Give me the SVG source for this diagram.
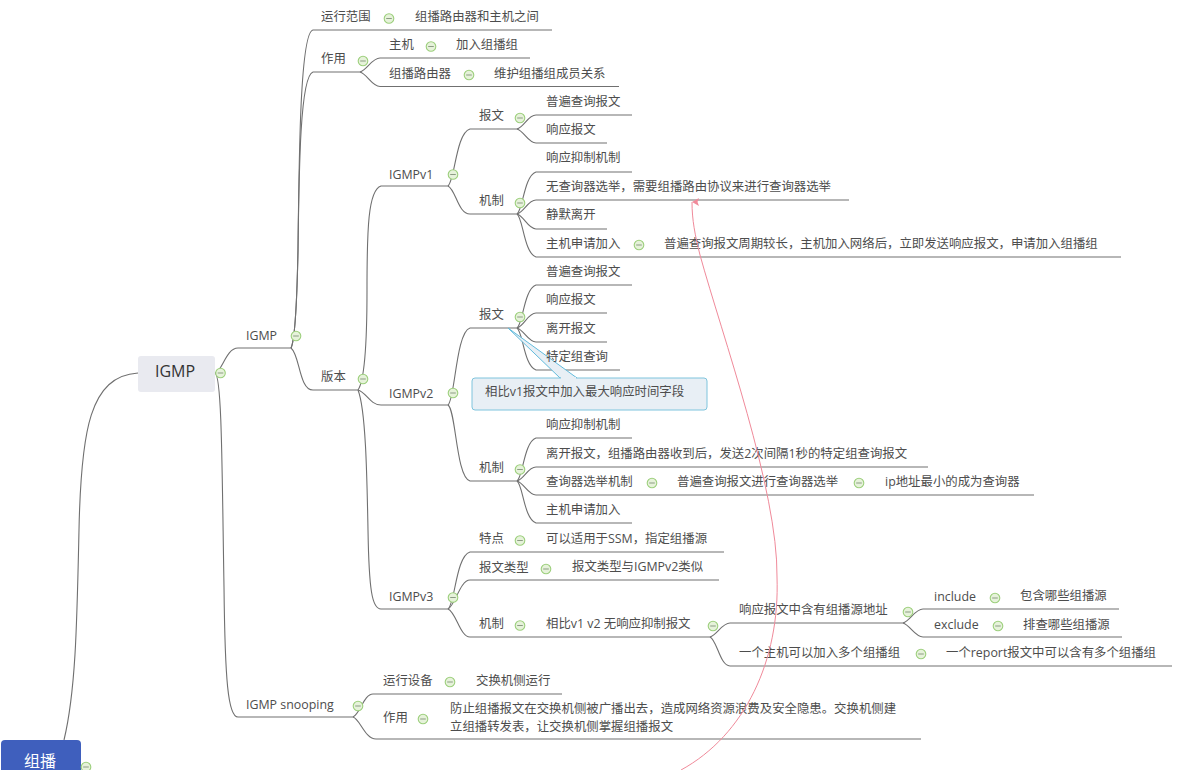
<svg xmlns="http://www.w3.org/2000/svg" width="1187" height="770" viewBox="0 0 1187 770">
<style>
text{font-family:"Open Sans","Noto Sans CJK SC",sans-serif;font-size:12.4px;fill:#4d4d4d}
.b{fill:none;stroke:#707070;stroke-width:1.1}
.h{fill:#e6f2da;stroke:#9ccf7c;stroke-width:1.1}
.m{fill:none;stroke:#8c9c84;stroke-width:1}
</style>
<defs>
<g id="ic"><circle class="h" r="4.8"/><path class="m" d="M-2.800 0H2.800"/></g>
<marker id="ar" markerWidth="10" markerHeight="10" refX="5" refY="1" orient="auto" markerUnits="userSpaceOnUse" viewBox="0 0 10 10"><path d="M1 8L5 1L9 8L5 6.500Z" fill="#f08a9a"/></marker>
</defs>
<rect width="1187" height="770" fill="#fff"/>
<g id="connectors">
<path class="b" d="M64 740C76 690 77 620 79 530C81 430 90 376 138 373"/>
<path class="b" d="M215 373C222 372 226 348 238 348H291"/>
<path class="b" d="M215 373C222 376 222 470 224 587C225 680 228 717 238 717H353"/>
<path class="b" d="M291 348C295 340 297 300 298 250C299 160 300 32 313 30H552"/>
<path class="b" d="M291 348C295 340 297 300 298 250C299 170 300 76 313 72H360"/>
<path class="b" d="M291 348C300 355 299 390 313 390H358"/>
<path class="b" d="M360 72C367 70 372 58 380 58H530"/>
<path class="b" d="M360 72C367 74 372 86.500 380 86.500H619"/>
<path class="b" d="M358 390C365 380 367 340 367 290C367 230 368 190 381 186H448"/>
<path class="b" d="M358 390C366 392 370 405 381 405H448"/>
<path class="b" d="M358 390C366 410 367 480 368 530C369 590 372 609 381 609H448"/>
<path class="b" d="M448 186C455 180 456 133 470 129H517"/>
<path class="b" d="M448 186C456 190 458 214 470 214H517"/>
<path class="b" d="M517 129C524 127 528 115 536 115H632"/>
<path class="b" d="M517 129C524 131 528 143 536 143H607"/>
<path class="b" d="M517 214C523 210 524 176 536 172H632"/>
<path class="b" d="M517 214C524 212 528 200 536 200H849"/>
<path class="b" d="M517 214C524 216 528 229 536 229H607"/>
<path class="b" d="M517 214C523 218 524 253 536 257H1121"/>
<path class="b" d="M448 405C455 400 456 332 470 328H517"/>
<path class="b" d="M448 405C456 410 456 477 470 481H517"/>
<path class="b" d="M517 328C523 324 524 289 536 285H632"/>
<path class="b" d="M517 328C524 326 528 313 536 313H607"/>
<path class="b" d="M517 328C524 330 528 342 536 342H607"/>
<path class="b" d="M517 328C523 332 524 366 536 370H620"/>
<path class="b" d="M517 481C523 477 524 442 536 438H632"/>
<path class="b" d="M517 481C524 479 528 467 536 467H928"/>
<path class="b" d="M517 481C524 483 528 495 536 495H1034"/>
<path class="b" d="M517 481C523 485 524 519 536 523H632"/>
<path class="b" d="M448 609C455 604 456 556 470 552H724"/>
<path class="b" d="M448 609C455 606 460 580 470 580H719"/>
<path class="b" d="M448 609C456 612 460 637 470 637H710"/>
<path class="b" d="M710 637C717 635 722 623 730 623H903"/>
<path class="b" d="M710 637C717 640 720 666 730 666H1172"/>
<path class="b" d="M903 623C910 621 915 609 923 609H1119"/>
<path class="b" d="M903 623C910 625 915 637 923 637H1122"/>
<path class="b" d="M353 717C360 714 364 694 373 694H562"/>
<path class="b" d="M353 717C360 719 365 739 376 739H921"/>
</g>
<g id="root"><rect x="1" y="740" width="80" height="44" rx="4" fill="#3f5fbd"/><text x="24" y="767" style="font-size:16px;fill:#fff">组播</text><use href="#ic" x="86" y="767"/></g>
<g id="igmp-main"><rect x="138" y="356" width="77" height="36" rx="3" fill="#e9eaf0"/><text x="155" y="377" style="font-size:16px;fill:#333">IGMP</text><use href="#ic" x="220.500" y="373"/></g>
<g id="igmp"><text x="246" y="340">IGMP</text><use href="#ic" x="296" y="336"/></g>
<g id="scope"><text x="321" y="21">运行范围</text><use href="#ic" x="389" y="18.500"/></g>
<g id="scope-v"><text x="415" y="21">组播路由器和主机之间</text></g>
<g id="role"><text x="321" y="63">作用</text><use href="#ic" x="363" y="61"/></g>
<g id="host"><text x="389" y="49">主机</text><use href="#ic" x="431" y="46.500"/></g>
<g id="host-v"><text x="456" y="49">加入组播组</text></g>
<g id="router"><text x="389" y="78">组播路由器</text><use href="#ic" x="469" y="75"/></g>
<g id="router-v"><text x="494" y="78">维护组播组成员关系</text></g>
<g id="ver"><text x="321" y="381">版本</text><use href="#ic" x="363" y="379"/></g>
<g id="v1"><text x="389" y="179">IGMPv1</text><use href="#ic" x="453" y="174.500"/></g>
<g id="v1-msg"><text x="479" y="120">报文</text><use href="#ic" x="520" y="118"/></g>
<g id="v1-a"><text x="546" y="106">普遍查询报文</text></g>
<g id="v1-b"><text x="546" y="134">响应报文</text></g>
<g id="v1-mech"><text x="479" y="205">机制</text><use href="#ic" x="520" y="203"/></g>
<g id="v1-c"><text x="546" y="162">响应抑制机制</text></g>
<g id="v1-d"><text x="546" y="191">无查询器选举&#xFF0C;需要组播路由协议来进行查询器选举</text></g>
<g id="v1-e"><text x="546" y="219">静默离开</text></g>
<g id="v1-f"><text x="546" y="248">主机申请加入</text><use href="#ic" x="639" y="245"/></g>
<g id="v1-g"><text x="664" y="248">普遍查询报文周期较长&#xFF0C;主机加入网络后&#xFF0C;立即发送响应报文&#xFF0C;申请加入组播组</text></g>
<g id="v2"><text x="389" y="398">IGMPv2</text><use href="#ic" x="453" y="393"/></g>
<g id="v2-msg"><text x="479" y="319">报文</text><use href="#ic" x="520" y="317"/></g>
<g id="v2-a"><text x="546" y="276">普遍查询报文</text></g>
<g id="v2-b"><text x="546" y="304">响应报文</text></g>
<g id="v2-c"><text x="546" y="333">离开报文</text></g>
<g id="callout"><path d="M508 328L560 378H577Z" fill="#e8eff5" stroke="#62bbdc"/><rect x="472" y="378" width="235" height="32" rx="3" fill="#e8eff5" stroke="#7fc4dd"/><path d="M561 378H576" stroke="#e8eff5" stroke-width="2"/><text x="485" y="396">相比v1报文中加入最大响应时间字段</text></g>
<g id="v2-d"><text x="546" y="361">特定组查询</text></g>
<g id="v2-mech"><text x="479" y="472">机制</text><use href="#ic" x="520" y="469.500"/></g>
<g id="v2-e"><text x="546" y="429">响应抑制机制</text></g>
<g id="v2-f"><text x="546" y="458">离开报文&#xFF0C;组播路由器收到后&#xFF0C;发送2次间隔1秒的特定组查询报文</text></g>
<g id="v2-g"><text x="546" y="486">查询器选举机制</text><use href="#ic" x="652" y="483"/></g>
<g id="v2-h"><text x="677" y="486">普遍查询报文进行查询器选举</text><use href="#ic" x="859" y="483"/></g>
<g id="v2-i"><text x="885" y="486">ip地址最小的成为查询器</text></g>
<g id="v2-j"><text x="546" y="514">主机申请加入</text></g>
<g id="v3"><text x="389" y="601">IGMPv3</text><use href="#ic" x="453" y="597.500"/></g>
<g id="v3-a"><text x="479" y="543">特点</text><use href="#ic" x="520" y="540.500"/></g>
<g id="v3-a1"><text x="546" y="543">可以适用于SSM&#xFF0C;指定组播源</text></g>
<g id="v3-b"><text x="479" y="572">报文类型</text><use href="#ic" x="546" y="569"/></g>
<g id="v3-b1"><text x="572" y="571">报文类型与IGMPv2类似</text></g>
<g id="v3-c"><text x="479" y="628">机制</text><use href="#ic" x="520" y="625.500"/></g>
<g id="v3-c1"><text x="546" y="628">相比v1 v2 无响应抑制报文</text><use href="#ic" x="713" y="626"/></g>
<g id="v3-d"><text x="739" y="614">响应报文中含有组播源地址</text><use href="#ic" x="908" y="612"/></g>
<g id="v3-inc"><text x="934" y="601">include</text><use href="#ic" x="995" y="598"/></g>
<g id="v3-inc1"><text x="1020" y="600">包含哪些组播源</text></g>
<g id="v3-exc"><text x="934" y="629">exclude</text><use href="#ic" x="998" y="626"/></g>
<g id="v3-exc1"><text x="1023" y="629">排查哪些组播源</text></g>
<g id="v3-e"><text x="739" y="657">一个主机可以加入多个组播组</text><use href="#ic" x="921" y="654"/></g>
<g id="v3-e1"><text x="946" y="657">一个report报文中可以含有多个组播组</text></g>
<g id="snoop"><text x="246" y="709">IGMP snooping</text><use href="#ic" x="358" y="706"/></g>
<g id="sn-a"><text x="383" y="685">运行设备</text><use href="#ic" x="450" y="682"/></g>
<g id="sn-a1"><text x="476" y="685">交换机侧运行</text></g>
<g id="sn-b"><text x="383" y="722">作用</text><use href="#ic" x="423" y="719"/></g>
<g id="sn-b1"><text x="450" y="713">防止组播报文在交换机侧被广播出去&#xFF0C;造成网络资源浪费及安全隐患。交换机侧建</text><text x="450" y="731">立组播转发表&#xFF0C;让交换机侧掌握组播报文</text></g>
<g id="relationship"><path d="M681 770C745 735 780 660 777 577C778 490 722 335 700 255C695 235 692 220 692 202" fill="none" stroke="#f08a9a" stroke-width="1" marker-end="url(#ar)"/></g>
</svg>
